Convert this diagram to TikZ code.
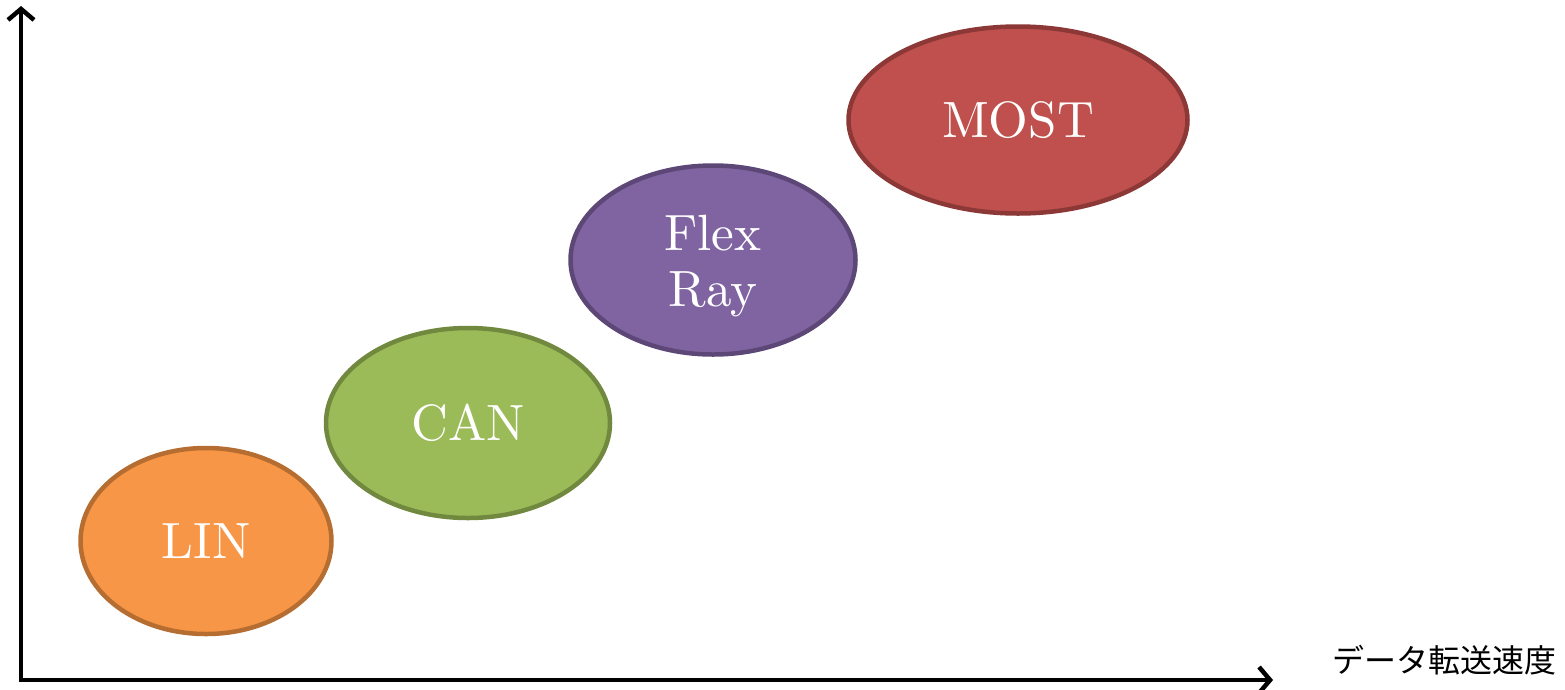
\documentclass[tikz,border=0pt]{standalone}
\usepackage{fontspec}
\newfontfamily\jpfont{Noto Sans CJK JP}
\newfontfamily\busfont{lmroman10-regular}[Extension=.otf]
\usetikzlibrary{arrows.meta,shapes.geometric}
\definecolor{linfill}{HTML}{F79646}
\definecolor{linline}{HTML}{B66D31}
\definecolor{canfill}{HTML}{9BBB59}
\definecolor{canline}{HTML}{71893F}
\definecolor{flxfill}{HTML}{8064A2}
\definecolor{flxline}{HTML}{5C4776}
\definecolor{mstfill}{HTML}{C0504D}
\definecolor{mstline}{HTML}{8C3836}
\tikzset{
  bustext/.style={inner sep=0pt, text=white, align=center,
    font=\busfont\fontsize{51}{56}\selectfont},
  bus/.style={ellipse, line width=4.5pt, bustext},
  axisline/.style={line width=4.5pt, {Straight Barb[length=11pt,width=26pt,line width=4.5pt]}-{Straight Barb[length=11pt,width=26pt,line width=4.5pt]}}
}
\begin{document}
\begin{tikzpicture}[x=1pt,y=-1pt]
  \useasboundingbox (0,0) rectangle (1565,689);
  % axes
  \coordinate (top) at (21,6);
  \coordinate (origin) at (21,680);
  \coordinate (right) at (1273,680);
  \draw[axisline] (top) -- (origin) -- (right);
  \node[font=\jpfont\fontsize{32}{36}\selectfont, anchor=center] (xlabel) at (1444,660) {データ転送速度};
  % bus systems
  \node[bus, draw=linline, fill=linfill, minimum width=251pt, minimum height=186pt] (lin) at (206,541) {LIN};
  \node[bus, draw=canline, fill=canfill, minimum width=284pt, minimum height=190pt] (can) at (468,423) {CAN};
  \node[bus, draw=flxline, fill=flxfill, minimum width=285pt, minimum height=189pt] (flex) at (713,260) {};
  \node[bustext] (flextext) at (713,266) {Flex\\Ray};
  \node[bus, draw=mstline, fill=mstfill, minimum width=339pt, minimum height=187pt] (most) at (1018,120) {MOST};
\end{tikzpicture}
\end{document}
